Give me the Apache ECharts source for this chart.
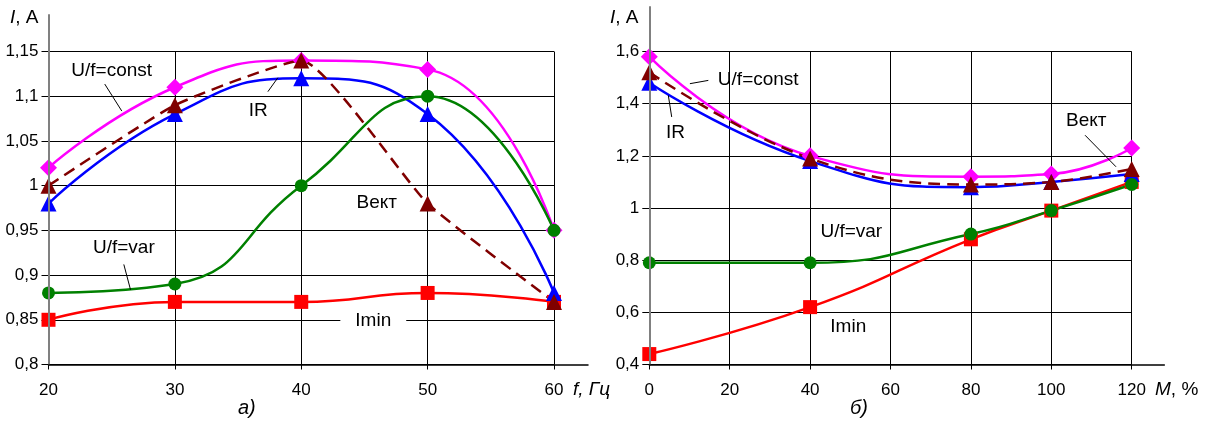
<!DOCTYPE html>
<html>
<head>
<meta charset="utf-8">
<script src="https://cdn.jsdelivr.net/npm/echarts@6/dist/echarts.min.js"></script>
<style>
html,body{margin:0;padding:0;background:#fff;}
#chart{width:1207px;height:421px;}
</style>
</head>
<body>
<div id="chart"></div>
<script>
// ---- data ----
const fValues = [20, 30, 40, 50, 60];            // f, Гц
const leftUfConst = [1.02, 1.11, 1.14, 1.13, 0.95];
const leftIR      = [0.98, 1.08, 1.12, 1.08, 0.88];
const leftVekt    = [1.00, 1.09, 1.14, 0.98, 0.87];
const leftUfVar   = [0.88, 0.89, 1.00, 1.10, 0.95];
const leftImin    = [0.85, 0.87, 0.87, 0.88, 0.87];

const mValues = [0, 40, 80, 100, 120];            // M, %
const rightUfConst = [1.58, 1.20, 1.12, 1.13, 1.23];
const rightIR      = [1.48, 1.18, 1.08, 1.10, 1.13];
const rightVekt    = [1.52, 1.19, 1.09, 1.10, 1.15];
const rightUfVar   = [0.79, 0.79, 0.90, 0.99, 1.09];
const rightImin    = [0.44, 0.62, 0.88, 0.99, 1.10];

const FONT = '"Liberation Sans", Arial, sans-serif';
const TICK_FS = 17;
const ANN_FS = 19;

function pairs(xs, ys) { return xs.map((x, i) => [x, ys[i]]); }
function fmt(v) { return String(Math.round(v * 100) / 100).replace('.', ','); }

const COLORS = {
  imin: '#FF0000', ufconst: '#FF00FF', ir: '#0000FF', ufvar: '#008000', vekt: '#800000'
};

function annLabel(text, coord, bg) {
  return {
    coord: coord, symbol: 'circle', symbolSize: 0,
    itemStyle: { color: 'transparent' },
    label: {
      show: true, position: 'inside', formatter: text, color: '#000',
      fontSize: ANN_FS, fontFamily: FONT,
      backgroundColor: bg ? '#fff' : 'transparent',
      padding: bg ? [1, 15, 1, 15] : 0
    }
  };
}
function leader(a, b) { return [{ coord: a }, { coord: b }]; }

function mkSeries(name, xs, ys, gi, color, symbol, size, opts) {
  opts = opts || {};
  const s = {
    name: name, type: 'line', xAxisIndex: gi, yAxisIndex: gi,
    data: pairs(xs, ys), smooth: opts.smooth !== undefined ? opts.smooth : 0.5,
    symbol: symbol, symbolSize: size, showSymbol: true,
    lineStyle: { color: color, width: 2.5, type: opts.dash ? [12, 7] : 'solid' },
    itemStyle: { color: color, borderWidth: 0 },
    emphasis: { disabled: true }, animation: false, z: opts.z || 3
  };
  if (opts.labels) {
    s.markPoint = { silent: true, animation: false, data: opts.labels };
  }
  if (opts.leaders) {
    s.markLine = {
      silent: true, animation: false, symbol: ['none', 'none'],
      label: { show: false },
      lineStyle: { color: '#000', width: 1, type: 'solid' },
      emphasis: { disabled: true },
      data: opts.leaders
    };
  }
  return s;
}

const gridLine = { show: true, lineStyle: { color: '#000', width: 1 } };
const axisLabelBase = { color: '#000', fontSize: TICK_FS, fontFamily: FONT };

const option = {
  backgroundColor: '#fff',
  animation: false,
  grid: [
    { left: 48.5, top: 51.5, width: 505.5, height: 313 },   // left data
    { left: 649.3, top: 51.5, width: 482.4, height: 313 },  // right data
    { left: 48.5, top: 15, width: 539.5, height: 349.5 },   // left frame
    { left: 649.3, top: 7, width: 515, height: 357.5 }      // right frame
  ],
  xAxis: [
    { type: 'value', gridIndex: 0, min: 20, max: 60, interval: 10,
      axisLine: { show: false }, axisTick: { show: true, inside: false, length: 5, lineStyle: { color: '#000' } },
      axisLabel: Object.assign({ margin: 17 }, axisLabelBase), splitLine: gridLine },
    { type: 'value', gridIndex: 1, min: 0, max: 120, interval: 20,
      axisLine: { show: false }, axisTick: { show: true, inside: false, length: 5, lineStyle: { color: '#000' } },
      axisLabel: Object.assign({ margin: 17 }, axisLabelBase), splitLine: gridLine },
    { type: 'value', gridIndex: 2, min: 0, max: 1, show: true,
      axisLine: { show: true, lineStyle: { color: '#000', width: 1.5 } },
      axisTick: { show: false }, axisLabel: { show: false }, splitLine: { show: false }, z: 5 },
    { type: 'value', gridIndex: 3, min: 0, max: 1, show: true,
      axisLine: { show: true, lineStyle: { color: '#000', width: 1.5 } },
      axisTick: { show: false }, axisLabel: { show: false }, splitLine: { show: false }, z: 5 }
  ],
  yAxis: [
    { type: 'value', gridIndex: 0, min: 0.8, max: 1.15, interval: 0.05,
      axisLine: { show: false }, axisTick: { show: true, inside: false, length: 7, lineStyle: { color: '#000' } },
      axisLabel: Object.assign({ margin: 10, formatter: fmt }, axisLabelBase), splitLine: gridLine },
    { type: 'value', gridIndex: 1, min: 0.4, max: 1.6, interval: 0.2,
      axisLine: { show: false }, axisTick: { show: true, inside: false, length: 7, lineStyle: { color: '#000' } },
      axisLabel: Object.assign({ margin: 10, formatter: fmt }, axisLabelBase), splitLine: gridLine },
    { type: 'value', gridIndex: 2, min: 0, max: 1, show: true,
      axisLine: { show: true, lineStyle: { color: '#808080', width: 2 } },
      axisTick: { show: false }, axisLabel: { show: false }, splitLine: { show: false }, z: 5 },
    { type: 'value', gridIndex: 3, min: 0, max: 1, show: true,
      axisLine: { show: true, lineStyle: { color: '#808080', width: 2 } },
      axisTick: { show: false }, axisLabel: { show: false }, splitLine: { show: false }, z: 5 }
  ],
  series: [
    // ----- left chart (a) -----
    mkSeries('Imin', fValues, leftImin, 0, COLORS.imin, 'rect', 14,
      { labels: [annLabel('Imin', [45.7, 0.8486], true)] }),
    mkSeries('U/f=const', fValues, leftUfConst, 0, COLORS.ufconst, 'diamond', 17,
      { labels: [annLabel('U/f=const', [25.0, 1.1286])],
        leaders: [leader([24.45, 1.1136], [25.8, 1.0834])] }),
    mkSeries('IR', fValues, leftIR, 0, COLORS.ir, 'triangle', 16,
      { labels: [annLabel('IR', [36.6, 1.0837])],
        leaders: [leader([37.36, 1.1051], [38.15, 1.1207])] }),
    mkSeries('U/f=var', fValues, leftUfVar, 0, COLORS.ufvar, 'circle', 13,
      { labels: [annLabel('U/f=var', [25.96, 0.9306])],
        leaders: [leader([25.96, 0.9119], [26.49, 0.8836])] }),
    mkSeries('Вект', fValues, leftVekt, 0, COLORS.vekt, 'triangle', 16,
      { dash: true, smooth: 0.15, labels: [annLabel('Вект', [45.97, 0.9814])] }),
    // ----- right chart (б) -----
    mkSeries('Imin', mValues, rightImin, 1, COLORS.imin, 'rect', 14,
      { labels: [annLabel('Imin', [49.5, 0.5434])] }),
    mkSeries('U/f=const', mValues, rightUfConst, 1, COLORS.ufconst, 'diamond', 17,
      { labels: [annLabel('U/f=const', [27.1, 1.491])],
        leaders: [leader([10.1, 1.4766], [14.68, 1.4892])] }),
    mkSeries('IR', mValues, rightIR, 1, COLORS.ir, 'triangle', 16,
      { labels: [annLabel('IR', [6.5, 1.2867])],
        leaders: [leader([4.73, 1.4319], [5.57, 1.349])] }),
    mkSeries('U/f=var', mValues, rightUfVar, 1, COLORS.ufvar, 'circle', 13,
      { labels: [annLabel('U/f=var', [50.25, 0.9095])] }),
    mkSeries('Вект', mValues, rightVekt, 1, COLORS.vekt, 'triangle', 16,
      { dash: true, smooth: 0.4, labels: [annLabel('Вект', [108.7, 1.3363])],
        leaders: [leader([108.4, 1.279], [116.1, 1.158])] })
  ],
  graphic: [
    { type: 'text', left: 10, top: 8, style: { text: '{i|I}, A', fill: '#000', font: ANN_FS + 'px ' + FONT,
      rich: { i: { fontStyle: 'italic', fontSize: ANN_FS, fontFamily: FONT } } } },
    { type: 'text', left: 610, top: 8, style: { text: '{i|I}, A', fill: '#000', font: ANN_FS + 'px ' + FONT,
      rich: { i: { fontStyle: 'italic', fontSize: ANN_FS, fontFamily: FONT } } } },
    { type: 'text', left: 573, top: 380, style: { text: 'f, Гц', fill: '#000', font: 'italic ' + ANN_FS + 'px ' + FONT } },
    { type: 'text', left: 1155, top: 380, style: { text: '{i|M}, %', fill: '#000', font: ANN_FS + 'px ' + FONT,
      rich: { i: { fontStyle: 'italic', fontSize: ANN_FS, fontFamily: FONT } } } },
    { type: 'text', left: 238, top: 398, style: { text: 'а)', fill: '#000', font: 'italic 20px ' + FONT } },
    { type: 'text', left: 850, top: 398, style: { text: 'б)', fill: '#000', font: 'italic 20px ' + FONT } }
  ]
};

const chart = echarts.init(document.getElementById('chart'), null, { renderer: 'canvas' });
chart.setOption(option);
</script>
</body>
</html>
